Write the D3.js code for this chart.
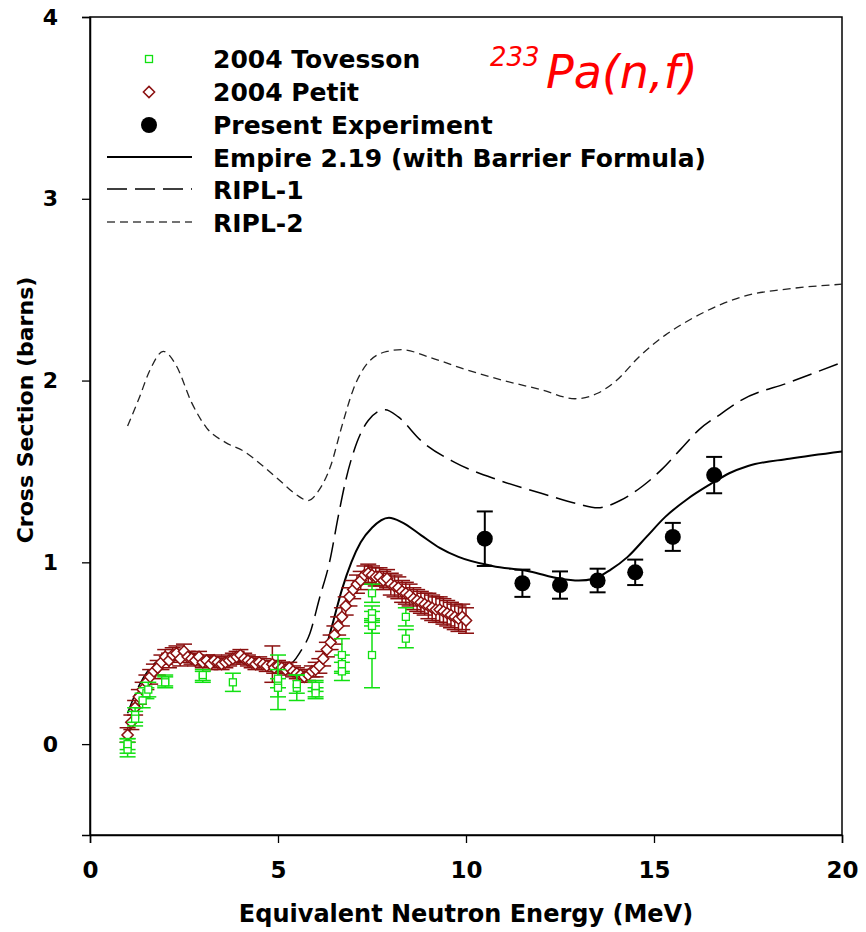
<!DOCTYPE html>
<html>
<head>
<meta charset="utf-8">
<script src="https://cdn.jsdelivr.net/npm/d3@7"></script>
<style>
body { margin: 0; background: #fff; }
text { font-family: "DejaVu Sans", Verdana, sans-serif; }
</style>
</head>
<body>
<div id="container" style="width:866px;height:932px"></div>
<script>
// ---- data ----
var xTicks = [0, 5, 10, 15, 20];
var yTicks = [0, 1, 2, 3, 4];

var empireE  = [1.0, 1.2, 1.4, 1.6, 1.8, 2.0, 2.3, 2.6, 3.0, 3.5, 4.0, 4.5, 5.0, 5.4, 5.8, 6.0, 6.2, 6.45, 6.7, 6.95, 7.2, 7.5, 7.95, 8.3, 8.8, 9.3, 9.8, 10.7, 11.7, 12.5, 13.0, 13.4, 13.85, 14.3, 14.8, 15.3, 15.9, 16.5, 17.0, 17.5, 18.6, 20.0];
var empireXS = [0.05, 0.15, 0.27, 0.36, 0.42, 0.46, 0.50, 0.50, 0.47, 0.45, 0.45, 0.45, 0.43, 0.41, 0.39, 0.41, 0.48, 0.66, 0.85, 1.00, 1.11, 1.19, 1.245, 1.22, 1.15, 1.08, 1.03, 0.98, 0.95, 0.91, 0.90, 0.91, 0.96, 1.03, 1.14, 1.25, 1.35, 1.43, 1.49, 1.53, 1.57, 1.61];

var ripl1E  = [1.0, 1.3, 1.6, 2.0, 2.5, 3.0, 3.5, 4.0, 4.5, 5.0, 5.3, 5.6, 5.85, 6.1, 6.38, 6.6, 6.8, 7.1, 7.4, 7.85, 8.2, 8.8, 9.7, 10.9, 12.0, 13.0, 13.5, 14.1, 14.7, 15.2, 15.7, 16.2, 16.8, 17.3, 18.6, 20.0];
var ripl1XS = [0.17, 0.32, 0.42, 0.48, 0.51, 0.48, 0.46, 0.46, 0.45, 0.44, 0.44, 0.51, 0.61, 0.80, 1.01, 1.25, 1.45, 1.66, 1.78, 1.84, 1.80, 1.67, 1.55, 1.45, 1.38, 1.32, 1.30, 1.34, 1.42, 1.51, 1.62, 1.73, 1.82, 1.89, 1.99, 2.10];

var ripl2E  = [1.0, 1.3, 1.6, 1.95, 2.3, 2.7, 3.1, 3.6, 4.1, 4.6, 5.1, 5.5, 5.8, 6.1, 6.4, 6.7, 7.0, 7.4, 7.9, 8.3, 9.0, 10.0, 11.0, 12.0, 12.9, 13.5, 14.0, 14.6, 15.3, 16.0, 16.8, 17.5, 18.4, 20.0];
var ripl2XS = [1.75, 1.90, 2.06, 2.16, 2.08, 1.88, 1.74, 1.66, 1.61, 1.53, 1.44, 1.37, 1.34, 1.40, 1.53, 1.75, 1.95, 2.10, 2.16, 2.17, 2.13, 2.06, 2.00, 1.95, 1.90, 1.93, 2.00, 2.13, 2.25, 2.34, 2.42, 2.47, 2.50, 2.53];

var tovessonE   = [1.0, 1.0, 1.0, 1.2, 1.2, 1.4, 1.5, 1.55, 2.0, 2.0, 3.0, 3.0, 3.8, 5.0, 5.0, 5.0, 5.5, 5.5, 6.0, 6.0, 6.0, 6.7, 6.7, 6.7, 7.5, 7.5, 7.5, 7.5, 7.5, 8.4, 8.4];
var tovessonXS  = [-0.01, -0.03, 0.0, 0.16, 0.14, 0.24, 0.28, 0.30, 0.35, 0.34, 0.37, 0.38, 0.34, 0.34, 0.36, 0.31, 0.31, 0.33, 0.30, 0.32, 0.28, 0.49, 0.44, 0.40, 0.83, 0.72, 0.69, 0.65, 0.49, 0.70, 0.58];
var tovessonErr = [0.04, 0.04, 0.03, 0.04, 0.04, 0.04, 0.03, 0.04, 0.03, 0.03, 0.03, 0.03, 0.05, 0.15, 0.05, 0.05, 0.07, 0.05, 0.04, 0.03, 0.03, 0.09, 0.05, 0.05, 0.05, 0.04, 0.04, 0.04, 0.18, 0.05, 0.05];

var petitE   = [1.0, 1.1, 1.2, 1.3, 1.4, 1.5, 1.6, 1.7, 1.8, 1.9, 2.0, 2.1, 2.2, 2.3, 2.4, 2.5, 2.6, 2.7, 2.8, 2.9, 3.0, 3.1, 3.2, 3.3, 3.4, 3.5, 3.6, 3.7, 3.8, 3.9, 4.0, 4.1, 4.2, 4.3, 4.4, 4.5, 4.6, 4.7, 4.85, 4.9, 5.0, 5.1, 5.2, 5.3, 5.4, 5.5, 5.6, 5.7, 5.8, 5.9, 6.0, 6.1, 6.2, 6.3, 6.4, 6.5, 6.6, 6.7, 6.8, 6.9, 7.0, 7.1, 7.2, 7.3, 7.4, 7.5, 7.6, 7.7, 7.8, 7.9, 8.0, 8.1, 8.2, 8.3, 8.4, 8.5, 8.6, 8.7, 8.8, 8.9, 9.0, 9.1, 9.2, 9.3, 9.4, 9.5, 9.6, 9.7, 9.8, 9.9, 10.0];
var petitXS  = [0.05, 0.12, 0.20, 0.26, 0.30, 0.34, 0.37, 0.40, 0.42, 0.45, 0.48, 0.46, 0.49, 0.50, 0.47, 0.51, 0.48, 0.47, 0.46, 0.48, 0.45, 0.46, 0.44, 0.46, 0.45, 0.44, 0.45, 0.46, 0.47, 0.48, 0.49, 0.47, 0.46, 0.45, 0.44, 0.45, 0.44, 0.43, 0.44, 0.42, 0.43, 0.42, 0.41, 0.42, 0.40, 0.39, 0.38, 0.37, 0.38, 0.40, 0.41, 0.43, 0.47, 0.52, 0.56, 0.60, 0.65, 0.70, 0.76, 0.81, 0.85, 0.88, 0.90, 0.93, 0.94, 0.93, 0.92, 0.92, 0.90, 0.91, 0.88, 0.87, 0.86, 0.84, 0.83, 0.82, 0.80, 0.79, 0.78, 0.77, 0.76, 0.75, 0.74, 0.74, 0.73, 0.72, 0.71, 0.70, 0.69, 0.70, 0.68];
var petitErr = [0.04, 0.04, 0.04, 0.04, 0.04, 0.04, 0.04, 0.04, 0.04, 0.04, 0.04, 0.04, 0.04, 0.04, 0.04, 0.04, 0.03, 0.03, 0.03, 0.03, 0.03, 0.03, 0.03, 0.03, 0.03, 0.03, 0.03, 0.03, 0.03, 0.03, 0.03, 0.03, 0.03, 0.03, 0.03, 0.03, 0.03, 0.03, 0.10, 0.03, 0.03, 0.03, 0.03, 0.03, 0.03, 0.03, 0.03, 0.03, 0.03, 0.03, 0.04, 0.04, 0.04, 0.04, 0.04, 0.05, 0.05, 0.05, 0.05, 0.05, 0.05, 0.05, 0.05, 0.05, 0.05, 0.05, 0.05, 0.05, 0.05, 0.05, 0.06, 0.06, 0.06, 0.06, 0.06, 0.06, 0.06, 0.06, 0.06, 0.06, 0.07, 0.07, 0.07, 0.07, 0.07, 0.07, 0.07, 0.07, 0.07, 0.07, 0.07];

var presentE   = [10.5, 11.5, 12.5, 13.5, 14.5, 15.5, 16.6];
var presentXS  = [1.13, 0.885, 0.875, 0.90, 0.945, 1.14, 1.48];
var presentErr = [0.15, 0.075, 0.075, 0.065, 0.07, 0.077, 0.10];

var legendLabels = ["2004 Tovesson", "2004 Petit", "Present Experiment", "Empire 2.19 (with Barrier Formula)", "RIPL-1", "RIPL-2"];

// ---- layout ----
var width = 866, height = 932;
var margin = {top: 17, right: 24, bottom: 97, left: 90};
var innerW = width - margin.left - margin.right;
var innerH = height - margin.top - margin.bottom;

var green = "#11e011", maroon = "#8b1010";

var svg = d3.select("#container").append("svg")
    .attr("width", width)
    .attr("height", height);

var g = svg.append("g")
    .attr("transform", "translate(" + margin.left + "," + margin.top + ")");

var x = d3.scaleLinear().domain([0, 20]).range([0, innerW]);
var y = d3.scaleLinear().domain([-0.5, 4]).range([innerH, 0]);

function zip(a, b, c) {
	return a.map(function(v, i) { return {e: v, s: b[i], err: c ? c[i] : 0}; });
}

// frame
g.append("rect")
	.attr("width", innerW)
	.attr("height", innerH)
	.attr("fill", "none")
	.attr("stroke", "#000")
	.attr("stroke-width", 1.5);

// axes
var xAxis = g.append("g")
	.attr("transform", "translate(0," + innerH + ")")
	.call(d3.axisBottom(x).tickValues(xTicks).tickFormat(d3.format("d")).tickSize(8).tickPadding(19));
var yAxis = g.append("g")
	.call(d3.axisLeft(y).tickValues(yTicks).tickFormat(d3.format("d")).tickSize(8).tickPadding(24));

[xAxis, yAxis].forEach(function(a) {
	a.select(".domain").attr("stroke-width", 1.5);
	a.selectAll(".tick line").attr("stroke-width", 1.3);
	a.selectAll("text")
		.style("font-family", "'DejaVu Sans', Verdana, sans-serif")
		.style("font-weight", "bold")
		.attr("fill", "#000");
});
xAxis.selectAll("text").style("font-size", "23px");
yAxis.selectAll("text").style("font-size", "22px");

// axis titles
svg.append("text")
	.attr("x", margin.left + innerW / 2)
	.attr("y", 922)
	.attr("text-anchor", "middle")
	.style("font-size", "24px")
	.style("font-weight", "bold")
	.text("Equivalent Neutron Energy (MeV)");

svg.append("text")
	.attr("transform", "translate(33," + 410 + ") rotate(-90)")
	.attr("text-anchor", "middle")
	.style("font-size", "22px")
	.style("font-weight", "bold")
	.text("Cross Section (barns)");

// curves
var line = d3.line()
	.x(function(d) { return x(d.e); })
	.y(function(d) { return y(d.s); })
	.curve(d3.curveMonotoneX);

var curves = g.append("g").attr("fill", "none");
curves.append("path")
	.attr("d", line(zip(ripl2E, ripl2XS)))
	.attr("stroke", "#222")
	.attr("stroke-width", 1.3)
	.attr("stroke-dasharray", "8,5");
curves.append("path")
	.attr("d", line(zip(ripl1E, ripl1XS)))
	.attr("stroke", "#000")
	.attr("stroke-width", 1.5)
	.attr("stroke-dasharray", "20,8");
curves.append("path")
	.attr("d", line(zip(empireE, empireXS)))
	.attr("stroke", "#000")
	.attr("stroke-width", 2);

// error bars helper
function errorBars(sel, data, color, cap, sw) {
	var eb = sel.append("g").attr("stroke", color).attr("stroke-width", sw)
		.selectAll("g").data(data).enter().append("g");
	eb.append("line")
		.attr("x1", function(d) { return x(d.e); })
		.attr("x2", function(d) { return x(d.e); })
		.attr("y1", function(d) { return y(d.s + d.err); })
		.attr("y2", function(d) { return y(d.s - d.err); });
	eb.append("line")
		.attr("x1", function(d) { return x(d.e) - cap; })
		.attr("x2", function(d) { return x(d.e) + cap; })
		.attr("y1", function(d) { return y(d.s + d.err); })
		.attr("y2", function(d) { return y(d.s + d.err); });
	eb.append("line")
		.attr("x1", function(d) { return x(d.e) - cap; })
		.attr("x2", function(d) { return x(d.e) + cap; })
		.attr("y1", function(d) { return y(d.s - d.err); })
		.attr("y2", function(d) { return y(d.s - d.err); });
}

// Petit
var petit = zip(petitE, petitXS, petitErr);
var pg = g.append("g");
errorBars(pg, petit, maroon, 8, 1.5);
pg.selectAll("path.dia").data(petit).enter().append("path")
	.attr("class", "dia")
	.attr("d", d3.symbol().type(d3.symbolDiamond2).size(80))
	.attr("transform", function(d) { return "translate(" + x(d.e) + "," + y(d.s) + ")"; })
	.attr("fill", "#fff")
	.attr("stroke", maroon)
	.attr("stroke-width", 1.5);

// Tovesson
var tov = zip(tovessonE, tovessonXS, tovessonErr);
var tg = g.append("g");
errorBars(tg, tov, green, 8, 1.5);
tg.selectAll("rect").data(tov).enter().append("rect")
	.attr("x", function(d) { return x(d.e) - 3.5; })
	.attr("y", function(d) { return y(d.s) - 3.5; })
	.attr("width", 7)
	.attr("height", 7)
	.attr("fill", "#fff")
	.attr("stroke", green)
	.attr("stroke-width", 1.3);

// Present experiment
var pres = zip(presentE, presentXS, presentErr);
var prg = g.append("g");
errorBars(prg, pres, "#000", 8, 2);
prg.selectAll("circle").data(pres).enter().append("circle")
	.attr("cx", function(d) { return x(d.e); })
	.attr("cy", function(d) { return y(d.s); })
	.attr("r", 8)
	.attr("fill", "#000");

// legend
var leg = svg.append("g");
var rowY = [68, 101, 134, 167, 199, 232];
leg.selectAll("text").data(legendLabels).enter().append("text")
	.attr("x", 213)
	.attr("y", function(d, i) { return rowY[i]; })
	.style("font-size", "25px")
	.style("font-weight", "bold")
	.text(function(d) { return d; });

leg.append("rect")
	.attr("x", 145.5).attr("y", 55.5).attr("width", 7).attr("height", 7)
	.attr("fill", "#fff").attr("stroke", green).attr("stroke-width", 1.3);
leg.append("path")
	.attr("d", d3.symbol().type(d3.symbolDiamond2).size(80))
	.attr("transform", "translate(149,92)")
	.attr("fill", "#fff").attr("stroke", maroon).attr("stroke-width", 1.5);
leg.append("circle")
	.attr("cx", 149).attr("cy", 125).attr("r", 8).attr("fill", "#000");
leg.append("line")
	.attr("x1", 107).attr("x2", 192).attr("y1", 157).attr("y2", 157)
	.attr("stroke", "#000").attr("stroke-width", 2);
leg.append("line")
	.attr("x1", 107).attr("x2", 192).attr("y1", 189).attr("y2", 189)
	.attr("stroke", "#000").attr("stroke-width", 1.5).attr("stroke-dasharray", "20,8");
leg.append("line")
	.attr("x1", 107).attr("x2", 192).attr("y1", 222).attr("y2", 222)
	.attr("stroke", "#444").attr("stroke-width", 1.3).attr("stroke-dasharray", "8,5");

// reaction label
svg.append("text")
	.attr("x", 490)
	.attr("y", 66)
	.attr("fill", "#ff0000")
	.style("font-size", "26px")
	.style("font-style", "italic")
	.text("233");
svg.append("text")
	.attr("x", 546)
	.attr("y", 88)
	.attr("fill", "#ff0000")
	.style("font-size", "46px")
	.style("font-style", "italic")
	.text("Pa(n,f)");
</script>
</body>
</html>
